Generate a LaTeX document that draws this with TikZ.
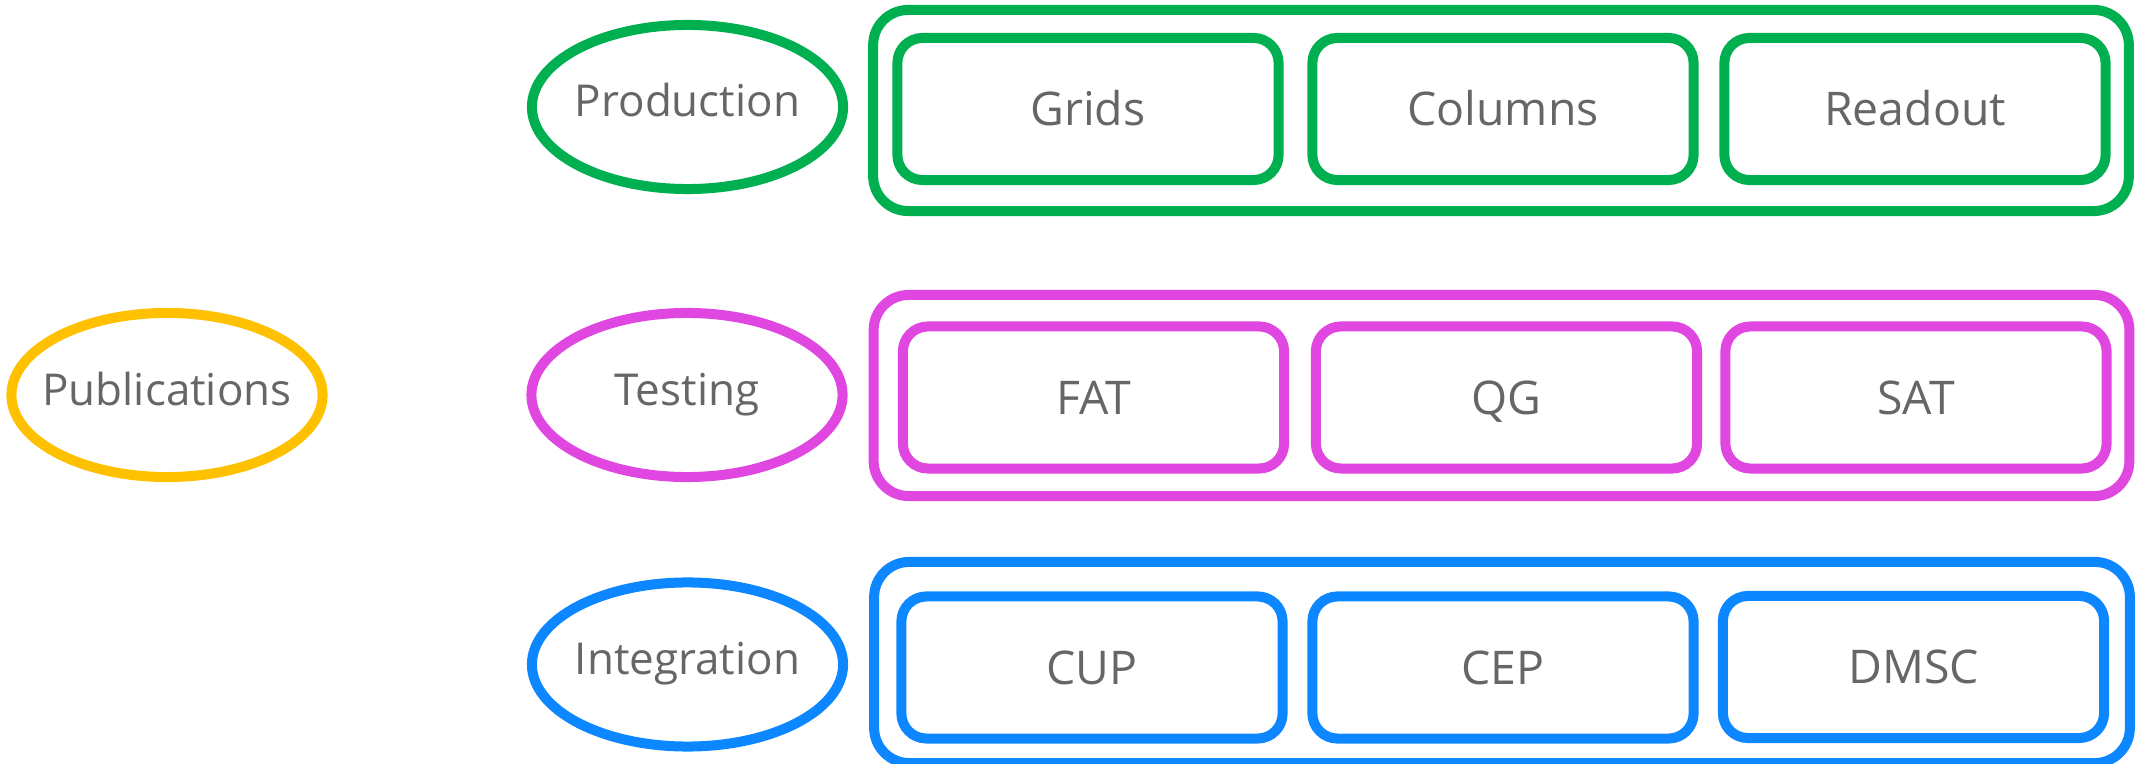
\documentclass[tikz,border=0pt]{standalone}
\usepackage{fontspec}
\setmainfont{Open Sans}
\usepackage[HTML]{xcolor}
\usetikzlibrary{shapes.geometric}
\definecolor{prodgreen}{HTML}{00B050}
\definecolor{testpink}{HTML}{E047E0}
\definecolor{integblue}{HTML}{0C87FF}
\definecolor{pubyellow}{HTML}{FFC000}
\definecolor{labelgray}{HTML}{666666}

\begin{document}
\begin{tikzpicture}[x=0.01cm, y=-0.01cm, line width=0.1cm,
  stage/.style={ellipse, draw=#1, minimum width=3.11cm, minimum height=1.64cm, inner ysep=0pt, inner xsep=-0.6cm,
    text=labelgray, font=\fontsize{12.5}{15}\selectfont, text height=0.2cm, text depth=0cm},
  rowframe/.style={draw=#1, rounded corners=0.35cm, minimum width=12.55cm, minimum height=2.01cm, inner sep=0pt},
  item/.style={draw=#1, rounded corners=0.25cm, minimum width=3.81cm, minimum height=1.42cm, inner sep=0pt,
    text=labelgray, font=\fontsize{13.2}{16}\selectfont, text height=0.332cm, text depth=0cm}]
\useasboundingbox (0,0) rectangle (2144,764);
% publications
\node[stage=pubyellow] (publications) at (167,395) {Publications};
% production row
\node[stage=prodgreen] (production) at (687.5,107) {Production};
\node[rowframe=prodgreen] (prodframe) at (1501,110.5) {};
\node[item=prodgreen] (grids) at (1088,109) {Grids};
\node[item=prodgreen] (columns) at (1503,109) {Columns};
\node[item=prodgreen] (readout) at (1915,109) {Readout};
% testing row
\node[stage=testpink] (testing) at (687,395) {Testing};
\node[rowframe=testpink] (testframe) at (1501.5,395.5) {};
\node[item=testpink] (fat) at (1093.5,397.5) {FAT};
\node[item=testpink] (qg) at (1506.5,397.5) {QG};
\node[item=testpink] (sat) at (1916,397.5) {SAT};
% integration row
\node[stage=integblue] (integration) at (687.5,664.5) {Integration};
\node[rowframe=integblue] (integframe) at (1502,662.5) {};
\node[item=integblue] (cup) at (1092,667.5) {CUP};
\node[item=integblue] (cep) at (1503,667.5) {CEP};
\node[item=integblue] (dmsc) at (1913.5,667) {DMSC};
\end{tikzpicture}
\end{document}
